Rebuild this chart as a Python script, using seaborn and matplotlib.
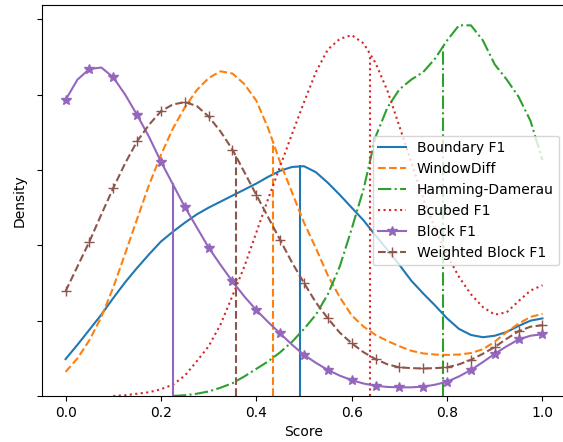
import numpy as np
import pandas as pd
import matplotlib
matplotlib.use("Agg")
import matplotlib.pyplot as plt
import seaborn as sns

# score grid (step 0.025) on which the densities were read
score = np.round(np.arange(41) * 0.025, 3)

boundary_f1 = [0.49, 0.68, 0.88, 1.08, 1.30, 1.51, 1.70, 1.88, 2.05, 2.18, 2.30, 2.41, 2.50, 2.58,
               2.66, 2.74, 2.82, 2.91, 2.99, 3.04, 3.05, 2.97, 2.83, 2.67, 2.50, 2.33, 2.13, 1.94,
               1.74, 1.53, 1.36, 1.20, 1.03, 0.89, 0.81, 0.78, 0.80, 0.85, 0.93, 1.00, 1.03]
window_diff = [0.32, 0.50, 0.74, 1.05, 1.44, 1.89, 2.35, 2.80, 3.20, 3.55, 3.83, 4.06, 4.22, 4.31,
               4.28, 4.14, 3.92, 3.55, 3.10, 2.70, 2.30, 1.96, 1.60, 1.31, 1.07, 0.92, 0.81, 0.73,
               0.66, 0.60, 0.565, 0.55, 0.545, 0.55, 0.57, 0.62, 0.72, 0.85, 0.96, 1.05, 1.09]
hamming_damerau = [np.nan] * 9 + [0.0, 0.01, 0.03, 0.06, 0.11, 0.17, 0.26, 0.36, 0.46, 0.58, 0.72,
                   0.89, 1.08, 1.35, 1.72, 2.22, 2.75, 3.44, 3.83, 4.07, 4.20, 4.30, 4.48, 4.72,
                   4.92, 4.92, 4.72, 4.40, 4.20, 3.97, 3.65, 3.13]
bcubed_f1 = [np.nan] * 4 + [0.0, 0.01, 0.03, 0.05, 0.09, 0.15, 0.27, 0.46, 0.66, 0.95, 1.33, 1.72,
             2.17, 2.62, 3.05, 3.48, 3.90, 4.30, 4.60, 4.74, 4.79, 4.68, 4.42, 4.05, 3.58, 3.10,
             2.62, 2.22, 1.87, 1.58, 1.35, 1.18, 1.08, 1.11, 1.26, 1.40, 1.47]
block_f1 = [3.93, 4.20, 4.34, 4.36, 4.23, 4.00, 3.73, 3.44, 3.11, 2.81, 2.51, 2.24, 1.97, 1.74,
            1.52, 1.32, 1.14, 0.98, 0.83, 0.68, 0.545, 0.44, 0.345, 0.27, 0.21, 0.165, 0.135,
            0.12, 0.115, 0.115, 0.124, 0.15, 0.19, 0.26, 0.345, 0.45, 0.56, 0.66, 0.75, 0.80, 0.82]
weighted_block_f1 = [1.39, 1.72, 2.05, 2.41, 2.76, 3.09, 3.38, 3.60, 3.78, 3.87, 3.90, 3.85, 3.71,
                     3.51, 3.27, 2.97, 2.67, 2.37, 2.07, 1.77, 1.50, 1.24, 1.03, 0.84, 0.70, 0.58,
                     0.49, 0.42, 0.38, 0.37, 0.365, 0.37, 0.38, 0.42, 0.48, 0.56, 0.65, 0.76, 0.86,
                     0.92, 0.94]

metrics = ["Boundary F1", "WindowDiff", "Hamming-Damerau", "Bcubed F1", "Block F1", "Weighted Block F1"]
densities = [boundary_f1, window_diff, hamming_damerau, bcubed_f1, block_f1, weighted_block_f1]
# median score of each metric (vertical lines)
medians = [0.4925, 0.434, 0.792, 0.6387, 0.2245, 0.357]

colors = sns.color_palette("tab10", 6)
linestyles = ["-", "--", "-.", ":", "-", "--"]
markers = [None, None, None, None, "*", "+"]

fig = plt.figure(figsize=(5.63, 4.42), dpi=100)
ax = fig.add_axes([0.0741, 0.1041, 0.9318, 0.8846])

for name, dens, med, c, ls, mk in zip(metrics, densities, medians, colors, linestyles, markers):
    df = pd.DataFrame({"Score": score, "Density": dens}).dropna()
    kw = {}
    if mk:
        kw = dict(marker=mk, markevery=2, markersize=7, markeredgecolor=c,
                  markerfacecolor=c, markeredgewidth=1.0)
    sns.lineplot(data=df, x="Score", y="Density", ax=ax, color=c, linestyle=ls,
                 label=name, **kw)
    h = np.interp(med, df["Score"], df["Density"])
    ax.plot([med, med], [0, h], color=c, linestyle=ls)

ax.set_xlim(-0.05, 1.05)
ax.set_ylim(0, 5.19)
ax.set_yticks([0, 1, 2, 3, 4, 5])
ax.set_yticklabels([])
ax.set_xlabel("Score")
ax.set_ylabel("Density")
ax.legend(loc="center right", fontsize=10)

fig.savefig("out.png", dpi=100)
